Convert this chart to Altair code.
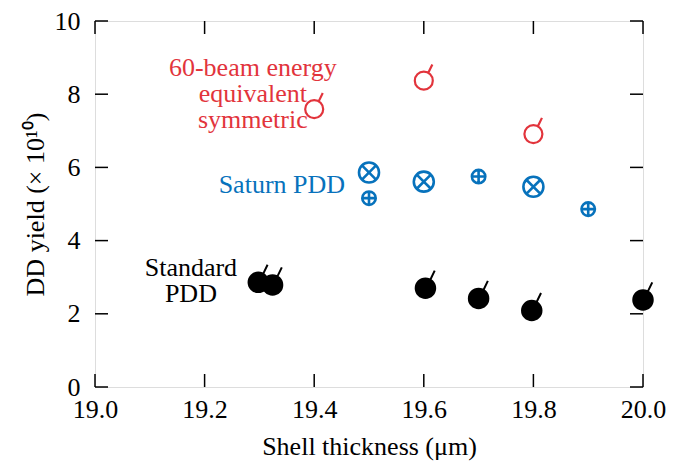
import altair as alt
import pandas as pd

# ---- data ----
std_x = [19.298, 19.324, 19.603, 19.70, 19.797, 20.00]
std_y = [2.86, 2.79, 2.70, 2.42, 2.09, 2.38]

sym_x = [19.40, 19.60, 19.80]
sym_y = [7.59, 8.37, 6.91]

satx_x = [19.50, 19.60, 19.80]
satx_y = [5.86, 5.61, 5.47]

satp_x = [19.50, 19.70, 19.90]
satp_y = [5.16, 5.75, 4.86]

x_ticks = [19.0, 19.2, 19.4, 19.6, 19.8, 20.0]
y_ticks = [0, 2, 4, 6, 8, 10]

ann_text = ["60-beam energy", "equivalent", "symmetric", "Saturn PDD", "Standard", "PDD"]
ann_x = [19.288, 19.288, 19.288, 19.341, 19.175, 19.175]
ann_y = [8.72, 8.01, 7.30, 5.52, 3.25, 2.54]
ann_group = ["sym", "sym", "sym", "sat", "std", "std"]

RED = "#E2343C"
BLUE = "#0772BC"
BLACK = "#000000"
FONT = "Liberation Serif"
FS = 26
W, H = 548, 366
TICK = 13

circle = "M 1 0 A 1 1 0 1 1 -1 0 A 1 1 0 1 1 1 0 Z"
stick_path = circle + " M 0.5 -0.87 L 0.95 -1.8"
xcirc_path = circle + " M -0.707 -0.707 L 0.707 0.707 M -0.707 0.707 L 0.707 -0.707"
pcirc_path = circle + " M 0 -1 L 0 1 M -1 0 L 1 0"

xs = alt.Scale(domain=[19.0, 20.0], nice=False, zero=False)
ys = alt.Scale(domain=[0, 10], nice=False)

xax = alt.Axis(values=x_ticks, format=".1f", ticks=False, tickSize=0, domain=False,
               grid=False, labelFlush=False, labelPadding=9, labelFontSize=FS, labelFont=FONT,
               labelColor="black", title="Shell thickness (μm)", titleFontSize=FS,
               titleFont=FONT, titleFontWeight="normal", titleColor="black", titlePadding=11)
yax = alt.Axis(values=y_ticks, ticks=False, tickSize=0, domain=False, grid=False,
               labelFlush=False, labelPadding=15, labelFontSize=FS, labelFont=FONT,
               labelColor="black",
               title="DD yield (× 10¹⁰)", titleFontSize=FS, titleFont=FONT,
               titleFontWeight="normal", titleColor="black", titlePadding=6)

def pts(xv, yv):
    return pd.DataFrame({"x": xv, "y": yv})

base_enc = dict(x=alt.X("x:Q", scale=xs, axis=xax), y=alt.Y("y:Q", scale=ys, axis=yax))

std = alt.Chart(pts(std_x, std_y)).mark_point(
    shape=stick_path, size=380, filled=True, fill=BLACK, stroke=BLACK,
    strokeWidth=2, opacity=1, fillOpacity=1, strokeOpacity=1
).encode(**base_enc)

sym = alt.Chart(pts(sym_x, sym_y)).mark_point(
    shape=stick_path, size=324, filled=False, stroke=RED, strokeWidth=2.2, opacity=1
).encode(x=alt.X("x:Q", scale=xs), y=alt.Y("y:Q", scale=ys))

satx = alt.Chart(pts(satx_x, satx_y)).mark_point(
    shape=xcirc_path, size=400, filled=False, stroke=BLUE, strokeWidth=2.6, opacity=1
).encode(x=alt.X("x:Q", scale=xs), y=alt.Y("y:Q", scale=ys))

satp = alt.Chart(pts(satp_x, satp_y)).mark_point(
    shape=pcirc_path, size=180, filled=False, stroke=BLUE, strokeWidth=2.6, opacity=1
).encode(x=alt.X("x:Q", scale=xs), y=alt.Y("y:Q", scale=ys))

ann = pd.DataFrame({"x": ann_x, "y": ann_y, "t": ann_text, "g": ann_group})
texts = alt.Chart(ann).mark_text(font=FONT, fontSize=26, align="center", baseline="middle").encode(
    x=alt.X("x:Q", scale=xs), y=alt.Y("y:Q", scale=ys), text="t:N",
    color=alt.Color("g:N", scale=alt.Scale(domain=["sym", "sat", "std"], range=[RED, BLUE, BLACK]),
                    legend=None)
)

xt = pd.DataFrame({"v": x_ticks})
yt = pd.DataFrame({"v": y_ticks})
tick_style = dict(color="black", strokeWidth=1.5)
tb = alt.Chart(xt).mark_rule(**tick_style).encode(
    x=alt.X("v:Q", scale=xs), y=alt.value(H), y2=alt.value(H - TICK))
tt = alt.Chart(xt).mark_rule(**tick_style).encode(
    x=alt.X("v:Q", scale=xs), y=alt.value(0), y2=alt.value(TICK))
tl = alt.Chart(yt).mark_rule(**tick_style).encode(
    y=alt.Y("v:Q", scale=ys), x=alt.value(0), x2=alt.value(TICK))
tr = alt.Chart(yt).mark_rule(**tick_style).encode(
    y=alt.Y("v:Q", scale=ys), x=alt.value(W), x2=alt.value(W - TICK))

chart = alt.layer(tb, tt, tl, tr, std, sym, satx, satp, texts).properties(
    width=W, height=H,
    autosize=alt.AutoSizeParams(type="none"),
    padding={"left": 87, "top": 13, "right": 28, "bottom": 78},
).configure_view(stroke="black", strokeWidth=1.8).configure(background="white")

chart.save("out.html", embed_options={"renderer": "svg", "actions": False})
